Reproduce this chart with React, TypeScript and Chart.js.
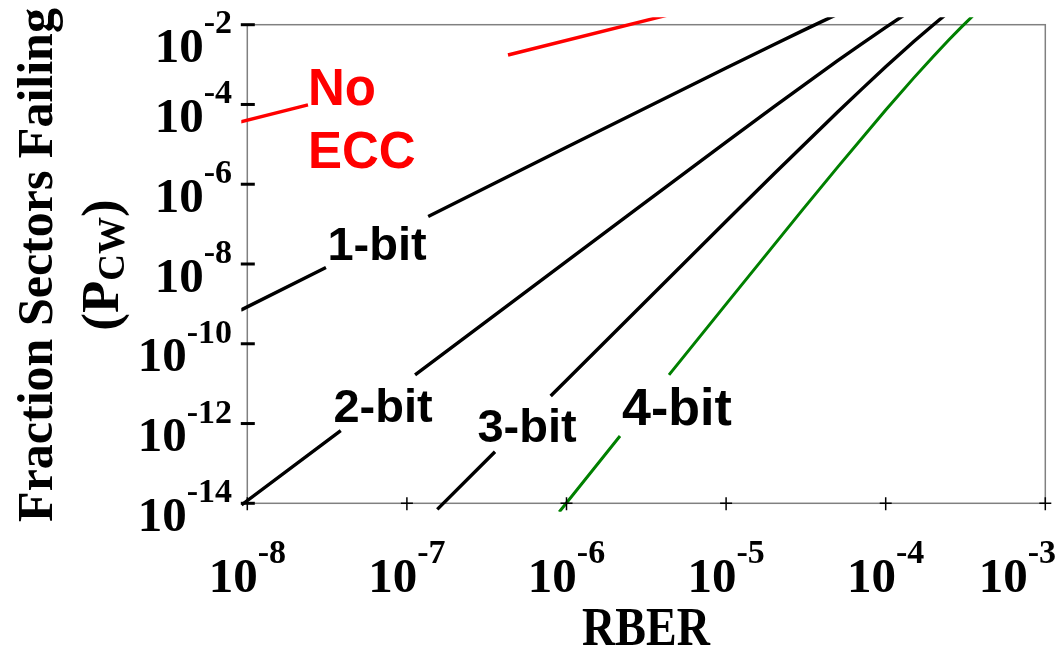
import React, { useEffect, useRef } from "react";
import { Chart, registerables } from "chart.js";

Chart.register(...registerables);

// ---- data ----
const xTickExps = [-8, -7, -6, -5, -4, -3];
const yTickExps = [-14, -12, -10, -8, -6, -4, -2];

// null = gap where the inline label sits
const noEccRber = [9.1e-9, 2.4e-8, 1.0e-7, 4.3e-7, 5e-6];
const noEccP = [3.69e-5, 9.72e-5, null, 1.74e-3, 2.03e-2];

const bit1Rber = [9.1e-9, 3.11e-8, 6.5e-8, 1.36e-7, 1e-6, 1e-5, 2e-5, 3e-5, 4e-5, 5e-5];
const bit1P = [6.98e-10, 8.17e-9, null, 1.56e-7, 8.44e-6, 8.2e-4, 3.197e-3, 7.0e-3, 1.211e-2, 1.84e-2];

const bit2Rber = [9.2e-9, 3.85e-8, 7e-8, 1.125e-7, 1e-6, 3e-6, 1e-5, 2e-5, 5e-5, 7e-5, 1e-4, 1.3e-4];
const bit2P = [9.09e-15, 6.66e-13, null, 1.66e-11, 1.167e-8, 3.122e-7, 1.13e-5, 8.779e-5, 1.251e-3, 3.23e-3, 8.6e-3, 1.725e-2];

const bit3Rber = [1.55e-7, 3.565e-7, 5.5e-7, 7.96e-7, 1e-6, 1e-5, 2e-5, 5e-5, 7e-5, 1e-4, 1.5e-4, 2e-4, 2.4e-4];
const bit3P = [7.03e-15, 1.967e-13, null, 4.89e-12, 1.218e-11, 1.179e-7, 1.8245e-6, 6.456e-5, 2.3227e-4, 8.77e-4, 3.7744e-3, 1.015e-2, 1.853e-2];

const bit4Rber = [9e-7, 2.164e-6, 3.1e-6, 4.387e-6, 1e-5, 3e-5, 5e-5, 1e-4, 1.5e-4, 2e-4, 2.5e-4, 3e-4, 3.5e-4];
const bit4P = [6.04e-15, 4.856e-13, null, 1.663e-11, 9.886e-10, 2.242e-7, 2.6915e-6, 7.256e-5, 4.645e-4, 1.652e-3, 4.2594e-3, 8.962e-3, 1.639e-2];

const seriesNames = ["No ECC", "1-bit", "2-bit", "3-bit", "4-bit"];

const SERIF = '"Liberation Serif", "Times New Roman", serif';
const SANS = '"Liberation Sans", Arial, sans-serif';

const inlineLabels = [
  { lines: ["No", "ECC"], x: 308, y: 105, lineGap: 63, color: "#ff0000", size: 51, align: "left" },
  { lines: ["1-bit"], x: 377, y: 260, lineGap: 0, color: "#000000", size: 47, align: "center" },
  { lines: ["2-bit"], x: 383, y: 421.5, lineGap: 0, color: "#000000", size: 47, align: "center" },
  { lines: ["3-bit"], x: 527, y: 441.5, lineGap: 0, color: "#000000", size: 47, align: "center" },
  { lines: ["4-bit"], x: 677, y: 425, lineGap: 0, color: "#000000", size: 52, align: "center" },
];

function pts(xs: number[], ys: (number | null)[]) {
  return xs.map((x, i) => ({ x, y: ys[i] }));
}

function drawPow(ctx: CanvasRenderingContext2D, e: number, left: number, base: number, sup: number) {
  ctx.font = `bold 49px ${SERIF}`;
  const w1 = ctx.measureText("10").width;
  ctx.fillText("10", left, base);
  ctx.font = `bold 34px ${SERIF}`;
  ctx.fillText(`-${-e}`, left + w1, sup);
}

function powWidth(ctx: CanvasRenderingContext2D, e: number) {
  ctx.font = `bold 49px ${SERIF}`;
  const w1 = ctx.measureText("10").width;
  ctx.font = `bold 34px ${SERIF}`;
  return w1 + ctx.measureText(`-${-e}`).width;
}

const axesPlugin = {
  id: "paperAxes",
  beforeDatasetsDraw(chart: any) {
    const { ctx, chartArea: a } = chart;
    ctx.save();
    ctx.strokeStyle = "#808080";
    ctx.lineWidth = 1.5;
    ctx.strokeRect(a.left, a.top, a.right - a.left, a.bottom - a.top);
    ctx.restore();
  },
  afterDatasetsDraw(chart: any) {
    const { ctx, chartArea: a, scales } = chart;
    const xs = scales.x;
    const ys = scales.y;
    ctx.save();
    ctx.strokeStyle = "#000";
    ctx.lineWidth = 3;
    for (const e of yTickExps) {
      const y = ys.getPixelForValue(Math.pow(10, e));
      ctx.beginPath();
      ctx.moveTo(a.left - 6.5, y);
      ctx.lineTo(a.left + 7.5, y);
      ctx.stroke();
    }
    ctx.lineWidth = 1.5;
    for (const e of xTickExps) {
      const x = xs.getPixelForValue(Math.pow(10, e));
      ctx.beginPath();
      ctx.moveTo(x - 6, a.bottom);
      ctx.lineTo(x + 6, a.bottom);
      ctx.moveTo(x, a.bottom - 6);
      ctx.lineTo(x, a.bottom + 7);
      ctx.stroke();
    }

    // tick labels
    ctx.fillStyle = "#000";
    ctx.textAlign = "left";
    ctx.textBaseline = "alphabetic";
    for (const e of xTickExps) {
      const x = xs.getPixelForValue(Math.pow(10, e));
      const w = powWidth(ctx, e);
      let left = x - w / 2;
      if (left + w > 1056) left = 1056 - w;
      drawPow(ctx, e, left, 591.5, 563);
    }
    for (const e of yTickExps) {
      const y = ys.getPixelForValue(Math.pow(10, e));
      const w = powWidth(ctx, e);
      let sup = y - 1;
      if (sup < 33) sup = 33;
      drawPow(ctx, e, 232 - w, sup + 28.5, sup);
    }

    // axis titles
    ctx.save();
    ctx.translate(646, 645);
    ctx.scale(1, 1.2);
    ctx.font = `bold 46px ${SERIF}`;
    ctx.textAlign = "center";
    ctx.fillText("RBER", 0, 0);
    ctx.restore();

    ctx.save();
    ctx.translate(52, 265);
    ctx.rotate(-Math.PI / 2);
    ctx.font = `bold 50px ${SERIF}`;
    ctx.textAlign = "center";
    ctx.fillText("Fraction Sectors Failing", 0, 0);
    ctx.restore();

    ctx.save();
    ctx.translate(118, 265);
    ctx.rotate(-Math.PI / 2);
    ctx.textAlign = "left";
    ctx.font = `bold 53px ${SERIF}`;
    const wA = ctx.measureText("(P").width;
    const wC = ctx.measureText(")").width;
    ctx.font = `bold 37px ${SERIF}`;
    const wB = ctx.measureText("CW").width;
    let cx = -(wA + wB + wC) / 2;
    ctx.font = `bold 53px ${SERIF}`;
    ctx.fillText("(P", cx, 0);
    cx += wA;
    ctx.font = `bold 37px ${SERIF}`;
    ctx.fillText("CW", cx, 6);
    cx += wB;
    ctx.font = `bold 53px ${SERIF}`;
    ctx.fillText(")", cx, 0);
    ctx.restore();

    // inline series labels
    for (const l of inlineLabels) {
      ctx.font = `bold ${l.size}px ${SANS}`;
      ctx.fillStyle = l.color;
      ctx.textAlign = l.align as CanvasTextAlign;
      l.lines.forEach((t, i) => ctx.fillText(t, l.x, l.y + i * l.lineGap));
    }
    ctx.restore();
  },
};

export default function App() {
  const ref = useRef<HTMLCanvasElement>(null);
  useEffect(() => {
    const clip = { left: 6, top: 7.5, right: 8, bottom: 8.5 };
    const common = { pointRadius: 0, tension: 0, spanGaps: false, clip, fill: false };
    const chart = new Chart(ref.current!, {
      type: "line",
      data: {
        datasets: [
          { label: seriesNames[0], data: pts(noEccRber, noEccP), borderColor: "#ff0000", borderWidth: 3.4, ...common },
          { label: seriesNames[1], data: pts(bit1Rber, bit1P), borderColor: "#000000", borderWidth: 3.4, ...common },
          { label: seriesNames[2], data: pts(bit2Rber, bit2P), borderColor: "#000000", borderWidth: 3.4, ...common },
          { label: seriesNames[3], data: pts(bit3Rber, bit3P), borderColor: "#000000", borderWidth: 3.4, ...common },
          { label: seriesNames[4], data: pts(bit4Rber, bit4P), borderColor: "#008000", borderWidth: 3, ...common },
        ] as any,
      },
      options: {
        responsive: false,
        animation: false,
        layout: { padding: { left: 247.3, right: 18.7, top: 24.7, bottom: 145.7 } },
        plugins: { legend: { display: false }, tooltip: { enabled: false } },
        scales: {
          x: { type: "logarithmic", min: 1e-8, max: 1e-3, display: false },
          y: { type: "logarithmic", min: 1e-14, max: 1e-2, display: false },
        },
      },
      plugins: [axesPlugin],
    });
    return () => chart.destroy();
  }, []);
  return (
    <div style={{ position: "fixed", left: 0, top: 0, width: 1064, height: 649, background: "#fff" }}>
      <canvas ref={ref} width={1064} height={649} style={{ display: "block" }} />
    </div>
  );
}
